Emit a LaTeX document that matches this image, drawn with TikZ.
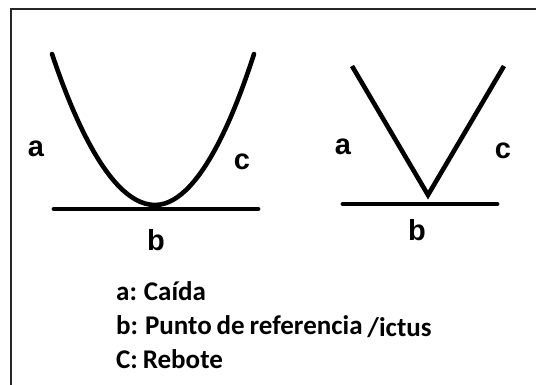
\documentclass[tikz,border=0pt]{standalone}
\usepackage{fontspec}
\setmainfont{Liberation Sans}
\newfontfamily\legendfont[WordSpace=0.8]{Carlito}
\tikzset{
  frame/.style  = {draw=black!85, line width=1.4pt},
  curve/.style  = {draw=black, line width=4.6pt, line cap=round},
  vline/.style  = {draw=black, line width=4.6pt, line join=miter},
  floor/.style  = {draw=black, line width=4.8pt, line cap=round},
  lbl/.style    = {inner sep=0pt, font=\fontsize{29}{32}\selectfont\bfseries},
  legend/.style = {inner sep=0pt, anchor=base west,
                   font=\legendfont\fontsize{27}{30}\selectfont\bfseries},
}
\begin{document}
\begin{tikzpicture}[x=1pt, y=-1pt]
  \useasboundingbox (0,0) rectangle (536,385);
  % frame
  \draw[frame] (536,9) -- (11,9) -- (11,385);
  % curved stroke
  \draw[curve] (52,54) parabola bend (155,205) (254,54);
  \draw[floor] (54,209) -- (258,209);
  \node[lbl] (aL) at (36,149) {a};
  \node[lbl] (cL) at (242,162) {c};
  \node[lbl] (bL) at (156,240) {b};
  % sharp stroke
  \draw[vline] (352,66) -- (428,195) -- (504,66);
  \draw[floor] (343,204) -- (497,204);
  \node[lbl] (aR) at (343,147) {a};
  \node[lbl] (cR) at (503,151) {c};
  \node[lbl] (bR) at (417,230) {b};
  % legend
  \node[legend] (lega) at (116,300) {a: Caída};
  \node[legend] (legb) at (116,334) {b: Punto de referencia \raisebox{-2pt}{/ictus}};
  \node[legend] (legc) at (116,368) {C: Rebote};
\end{tikzpicture}
\end{document}
